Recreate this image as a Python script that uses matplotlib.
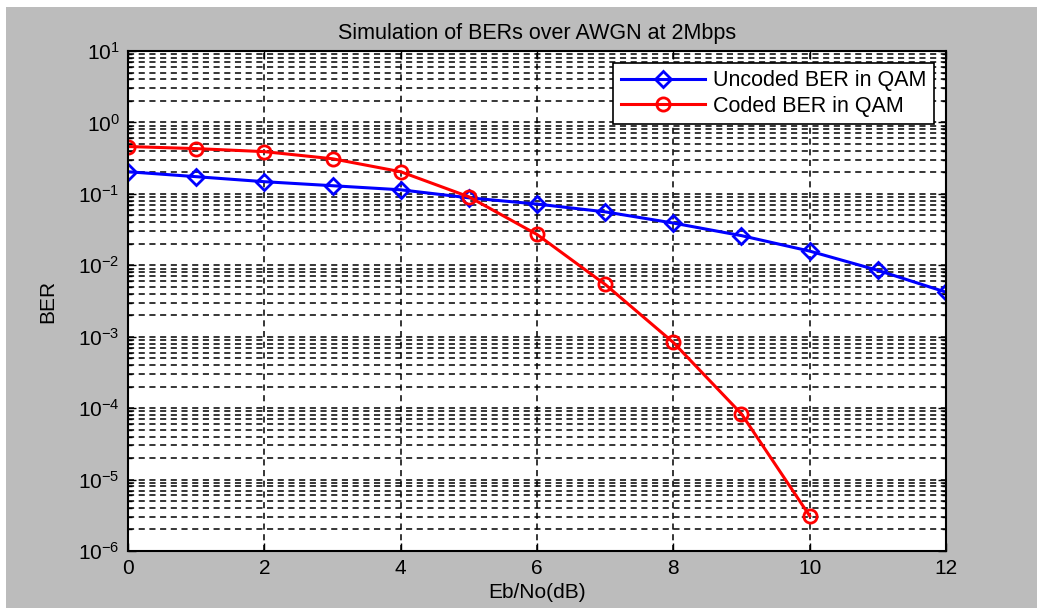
import numpy as np
import matplotlib
matplotlib.use("Agg")
import matplotlib.pyplot as plt
from matplotlib.patches import Rectangle
from matplotlib.ticker import FixedLocator, NullFormatter

plt.rcParams['font.family'] = ['Liberation Sans', 'DejaVu Sans']
plt.rcParams['mathtext.fontset'] = 'custom'
plt.rcParams['mathtext.rm'] = 'Liberation Sans'
plt.rcParams['mathtext.it'] = 'Liberation Sans'

# Eb/No in dB and simulated bit error rates
ebno_db = [0, 1, 2, 3, 4, 5, 6, 7, 8, 9, 10, 11, 12]
ber_uncoded = [0.204, 0.174, 0.148, 0.13, 0.114, 0.088, 0.072, 0.056, 0.039, 0.026, 0.0158, 0.0085, 0.0042]
ebno_coded = [0, 1, 2, 3, 4, 5, 6, 7, 8, 9, 10]
ber_coded = [0.46, 0.43, 0.39, 0.31, 0.204, 0.091, 0.027, 0.0054, 0.00083, 8.3e-5, 3.1e-6]
decades = list(range(-6, 2))

gray = '#bcbcbc'
fs = 15

fig = plt.figure(figsize=(10.37, 6.08), dpi=100, facecolor='white')
# grey window background, leaving a thin white strip at top and left
fig.patches.append(Rectangle((6 / 1037, 0), 1, 1 - 7 / 608, transform=fig.transFigure,
                             facecolor=gray, edgecolor='none', zorder=-10))

ax = fig.add_axes([128 / 1037, 57 / 608, (946 - 128) / 1037, (552 - 52) / 608])
ax.set_facecolor('white')

ax.semilogy(ebno_db, ber_uncoded, color='blue', lw=2.2, marker='D', ms=8.5,
            mfc='none', mec='blue', mew=2, label='Uncoded BER in QAM')
ax.semilogy(ebno_coded, ber_coded, color='red', lw=2.2, marker='o', ms=9.5,
            mfc='none', mec='red', mew=2, label='Coded BER in QAM')

ax.set_xlim(0, 12)
ax.set_ylim(1e-6, 10)
ax.set_xticks(range(0, 13, 2))
ax.set_yticks([10.0 ** d for d in decades])
minor = [m * 10.0 ** d for d in decades[:-1] for m in range(2, 10)]
ax.yaxis.set_minor_locator(FixedLocator(minor))
ax.yaxis.set_minor_formatter(NullFormatter())

ax.grid(True, which='major', axis='both', color='black', ls=(0, (4, 3)), lw=1.1)
ax.grid(True, which='minor', axis='y', color='black', ls=(0, (4, 3)), lw=1.1)

ax.tick_params(which='both', direction='in', top=True, right=True, labelsize=fs, pad=6)
ax.tick_params(which='major', length=6, width=1)
ax.tick_params(which='minor', length=3, width=1)
for s in ax.spines.values():
    s.set_linewidth(1.5)

ax.set_title('Simulation of BERs over AWGN at 2Mbps', fontsize=fs + 0.5, pad=9)
ax.set_xlabel('Eb/No(dB)', fontsize=fs, labelpad=3)
ax.set_ylabel('BER', fontsize=fs, labelpad=15)

leg = ax.legend(loc='upper right', fontsize=fs + 0.5, handlelength=3.9, handletextpad=0.4,
                fancybox=False, framealpha=1, edgecolor='black', borderaxespad=0.55,
                labelspacing=0.2, borderpad=0.35)
leg.get_frame().set_linewidth(1.2)

fig.savefig('out.png', dpi=100, facecolor=fig.get_facecolor())
